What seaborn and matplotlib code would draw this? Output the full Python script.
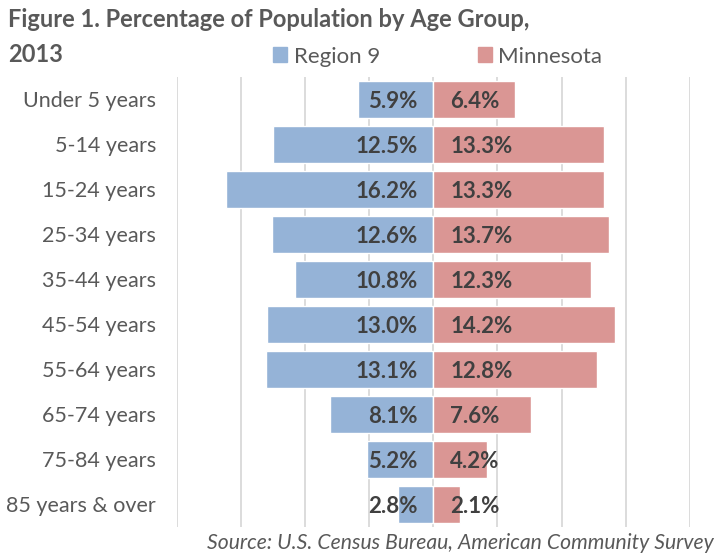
import numpy as np
import pandas as pd
import matplotlib
matplotlib.use("Agg")
import matplotlib.pyplot as plt
import seaborn as sns

# ─── DATA ─────────────────────────────────────────────────
age_groups = ["Under 5 years", "5-14 years", "15-24 years", "25-34 years",
              "35-44 years", "45-54 years", "55-64 years", "65-74 years",
              "75-84 years", "85 years & over"]
region9 = [5.9, 12.5, 16.2, 12.6, 10.8, 13.0, 13.1, 8.1, 5.2, 2.8]
minnesota = [6.4, 13.3, 13.3, 13.7, 12.3, 14.2, 12.8, 7.6, 4.2, 2.1]
series_names = ["Region 9", "Minnesota"]
colors = ["#95B3D7", "#DA9694"]

# Region 9 goes to the left, so flip its sign for plotting
df = pd.DataFrame({
    "age": age_groups * 2,
    "value": [-v for v in region9] + minnesota,
    "series": [series_names[0]] * len(age_groups) + [series_names[1]] * len(age_groups),
})

# ─── STYLE ────────────────────────────────────────────────
sns.set_style("white")
plt.rcParams["font.family"] = ["Lato", "DejaVu Sans"]
TEXT_GRAY = "#595959"
DARK = "#404040"

fig = plt.figure(figsize=(7.14, 5.54), dpi=100)
ax = fig.add_axes([0.248, 0.049, 0.718, 0.812])

sns.barplot(data=df, x="value", y="age", hue="series", orient="h",
            palette=colors, saturation=1, dodge=False, width=0.82,
            edgecolor="white", linewidth=1, ax=ax, legend=False, zorder=3)

ax.set_xlim(-20, 20)
ax.set_ylim(len(age_groups) - 0.5, -0.5)
ax.set_xticks(np.arange(-20, 21, 5))
ax.set_xticklabels([])
ax.tick_params(axis="x", length=0)
ax.tick_params(axis="y", length=0, pad=15, labelsize=15.5, labelcolor=TEXT_GRAY)
ax.grid(axis="x", color="#d9d9d9", linewidth=1.3, zorder=0)
ax.set_axisbelow(True)
for s in ax.spines.values():
    s.set_visible(False)
ax.set_xlabel("")
ax.set_ylabel("")

# value labels near the centre line
for i, (r, m) in enumerate(zip(region9, minnesota)):
    ax.text(-1.25, i, f"{r:.1f}%", ha="right", va="center_baseline",
            fontsize=16, fontweight="bold", color=DARK, zorder=5)
    ax.text(1.3, i, f"{m:.1f}%", ha="left", va="center_baseline",
            fontsize=16, fontweight="bold", color=DARK, zorder=5)

# ─── TITLE / LEGEND / SOURCE ──────────────────────────────
fig.text(0.011, 0.951, "Figure 1. Percentage of Population by Age Group,",
         ha="left", va="baseline", fontsize=17, fontweight="bold", color=TEXT_GRAY)
fig.text(0.011, 0.888, "2013",
         ha="left", va="baseline", fontsize=17, fontweight="bold", color=TEXT_GRAY)

handles = [plt.Rectangle((0, 0), 1, 1, color=c) for c in colors]
fig.legend(handles, series_names, loc="center left", bbox_to_anchor=(0.383, 0.898),
           ncol=2, frameon=False, fontsize=16, labelcolor=TEXT_GRAY,
           handlelength=0.62, handleheight=0.62, handletextpad=0.3,
           columnspacing=4.4, borderaxespad=0, borderpad=0)

fig.text(1.0, 0.02, "Source: U.S. Census Bureau, American Community Survey",
         ha="right", va="center", fontsize=15.2, style="italic", color=TEXT_GRAY)

fig.savefig("out.png", dpi=100)
